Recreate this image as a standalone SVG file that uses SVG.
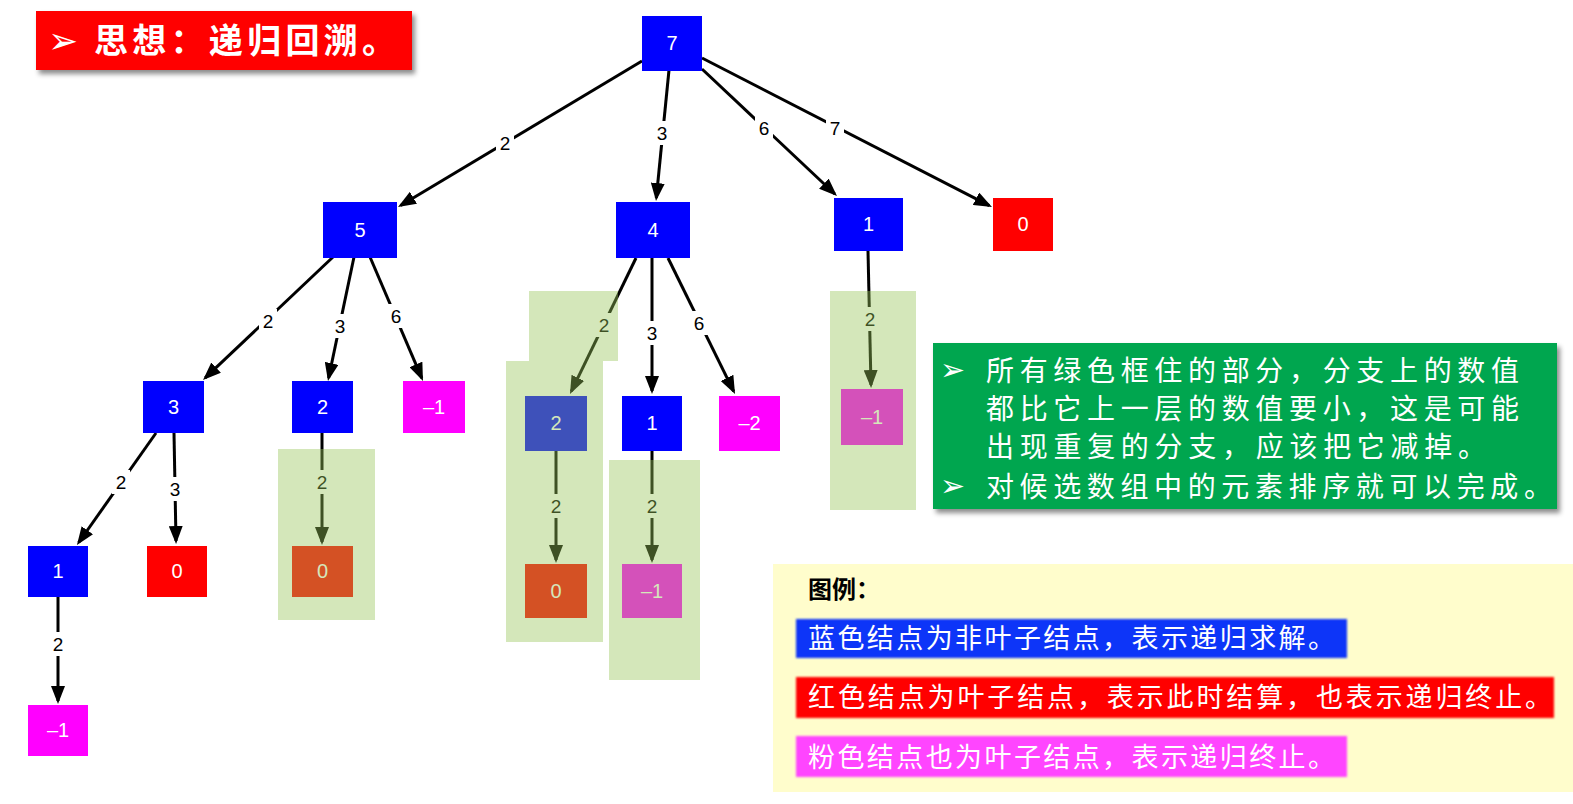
<svg xmlns="http://www.w3.org/2000/svg" width="1573" height="804" viewBox="0 0 1573 804">
<style>
.blue{fill:#0000FF}
.red{fill:#FF0000}
.pink{fill:#FF00FF}
.nt{font-family:"Liberation Sans",Arial,sans-serif;font-size:20px;fill:#FFFFFF;text-anchor:middle}
.e{stroke:#000;stroke-width:3;fill:none;marker-end:url(#arr)}
.lb{fill:#FFFFFF}
.lt{font-family:"Liberation Sans",Arial,sans-serif;font-size:19px;fill:#000;text-anchor:middle}
.hl{fill:rgb(151,197,87);fill-opacity:0.41}
.cn{font-family:"Noto Sans CJK SC",sans-serif;fill:#FFFFFF}
.bul{font-family:"DejaVu Sans",sans-serif;fill:#FFFFFF}
</style>
<defs>
<marker id="arr" markerUnits="userSpaceOnUse" markerWidth="18" markerHeight="14" refX="15" refY="7" orient="auto">
<path d="M0,0 L18,7 L0,14 Z" fill="#000"/>
</marker>
<filter id="sh" x="-5%" y="-20%" width="115%" height="150%">
<feDropShadow dx="3" dy="4" stdDeviation="2.5" flood-color="#000" flood-opacity="0.45"/>
</filter>
<filter id="soft" x="-5%" y="-20%" width="110%" height="140%">
<feGaussianBlur stdDeviation="1.2"/>
</filter>
</defs>
<rect width="1573" height="804" fill="#FFFFFF"/>

<g id="title">
<rect x="36" y="11" width="376" height="59" fill="#FF0000" filter="url(#sh)"/>
<text class="bul" x="48" y="53" font-size="36">➢</text>
<text class="cn" x="94" y="53" font-size="34" font-weight="bold" textLength="302" lengthAdjust="spacing">思想：递归回溯。</text>
</g>

<g id="connectors">
<line class="e" x1="642" y1="61" x2="400.6" y2="205.5"/>
<rect class="lb" x="496" y="131" width="18" height="24"/><text class="lt" x="505" y="150">2</text>
<line class="e" x1="669" y1="70" x2="656.3" y2="198"/>
<rect class="lb" x="653" y="121" width="18" height="24"/><text class="lt" x="662" y="140">3</text>
<line class="e" x1="702" y1="69" x2="834.8" y2="194"/>
<rect class="lb" x="755" y="116" width="18" height="24"/><text class="lt" x="764" y="135">6</text>
<line class="e" x1="702" y1="58" x2="989.3" y2="205.6"/>
<rect class="lb" x="826" y="116" width="18" height="24"/><text class="lt" x="835" y="135">7</text>

<line class="e" x1="333" y1="257" x2="205.2" y2="377.9"/>
<rect class="lb" x="259" y="309" width="18" height="24"/><text class="lt" x="268" y="328">2</text>
<line class="e" x1="354" y1="257" x2="328.6" y2="378"/>
<rect class="lb" x="331" y="314" width="18" height="24"/><text class="lt" x="340" y="333">3</text>
<line class="e" x1="370" y1="257" x2="421.8" y2="378.2"/>
<rect class="lb" x="387" y="304" width="18" height="24"/><text class="lt" x="396" y="323">6</text>

<line class="e" x1="156" y1="433" x2="78.7" y2="542.5"/>
<rect class="lb" x="112" y="470" width="18" height="24"/><text class="lt" x="121" y="489">2</text>
<line class="e" x1="174" y1="433" x2="176" y2="541"/>
<rect class="lb" x="166" y="477" width="18" height="24"/><text class="lt" x="175" y="496">3</text>
<line class="e" x1="322" y1="433" x2="322" y2="542"/>
<rect class="lb" x="313" y="470" width="18" height="24"/><text class="lt" x="322" y="489">2</text>
<line class="e" x1="58" y1="597" x2="58" y2="701"/>
<rect class="lb" x="49" y="632" width="18" height="24"/><text class="lt" x="58" y="651">2</text>

<line class="e" x1="636" y1="258" x2="571.3" y2="391.3"/>
<rect class="lb" x="595" y="313" width="18" height="24"/><text class="lt" x="604" y="332">2</text>
<line class="e" x1="652" y1="258" x2="652" y2="391"/>
<rect class="lb" x="643" y="321" width="18" height="24"/><text class="lt" x="652" y="340">3</text>
<line class="e" x1="668" y1="258" x2="733.7" y2="391.3"/>
<rect class="lb" x="690" y="311" width="18" height="24"/><text class="lt" x="699" y="330">6</text>

<line class="e" x1="556" y1="451" x2="556" y2="560"/>
<rect class="lb" x="547" y="494" width="18" height="24"/><text class="lt" x="556" y="513">2</text>
<line class="e" x1="652" y1="451" x2="652" y2="560"/>
<rect class="lb" x="643" y="494" width="18" height="24"/><text class="lt" x="652" y="513">2</text>
<line class="e" x1="868" y1="251" x2="871" y2="385"/>
<rect class="lb" x="861" y="307" width="18" height="24"/><text class="lt" x="870" y="326">2</text>
</g>

<g id="n7"><rect class="blue" x="642" y="16" width="60" height="55"/><text class="nt" x="672" y="50">7</text></g>
<g id="n5"><rect class="blue" x="323" y="202" width="74" height="56"/><text class="nt" x="360" y="237">5</text></g>
<g id="n4"><rect class="blue" x="616" y="202" width="74" height="56"/><text class="nt" x="653" y="237">4</text></g>
<g id="n1a"><rect class="blue" x="834" y="198" width="69" height="53"/><text class="nt" x="868.5" y="231">1</text></g>
<g id="n0a"><rect class="red" x="993" y="198" width="60" height="53"/><text class="nt" x="1023" y="231">0</text></g>
<g id="n3"><rect class="blue" x="143" y="381" width="61" height="52"/><text class="nt" x="173.5" y="414">3</text></g>
<g id="n2a"><rect class="blue" x="292" y="381" width="61" height="52"/><text class="nt" x="322.5" y="414">2</text></g>
<g id="nm1a"><rect class="pink" x="403" y="381" width="62" height="52"/><text class="nt" x="434" y="414">–1</text></g>
<g id="n2b"><rect class="blue" x="525" y="396" width="62" height="55"/><text class="nt" x="556" y="430">2</text></g>
<g id="n1b"><rect class="blue" x="622" y="396" width="60" height="55"/><text class="nt" x="652" y="430">1</text></g>
<g id="nm2"><rect class="pink" x="719" y="396" width="61" height="55"/><text class="nt" x="749.5" y="430">–2</text></g>
<g id="nm1b"><rect class="pink" x="841" y="389" width="62" height="56"/><text class="nt" x="872" y="424">–1</text></g>
<g id="n1c"><rect class="blue" x="28" y="546" width="60" height="51"/><text class="nt" x="58" y="578">1</text></g>
<g id="n0b"><rect class="red" x="147" y="546" width="60" height="51"/><text class="nt" x="177" y="578">0</text></g>
<g id="n0c"><rect class="red" x="292" y="546" width="61" height="51"/><text class="nt" x="322.5" y="578">0</text></g>
<g id="n0d"><rect class="red" x="525" y="564" width="62" height="54"/><text class="nt" x="556" y="598">0</text></g>
<g id="nm1c"><rect class="pink" x="622" y="564" width="60" height="54"/><text class="nt" x="652" y="598">–1</text></g>
<g id="nm1d"><rect class="pink" x="28" y="705" width="60" height="51"/><text class="nt" x="58" y="737">–1</text></g>

<g id="highlights">
<rect class="hl" x="278" y="449" width="97" height="171"/>
<path class="hl" d="M529,291 H618 V361 H603 V642 H506 V361 H529 Z"/>
<rect class="hl" x="609" y="460" width="91" height="220"/>
<rect class="hl" x="830" y="291" width="86" height="219"/>
</g>

<g id="note">
<rect x="933" y="343" width="624" height="166" fill="#00A650" filter="url(#sh)"/>
<text class="bul" x="940" y="380" font-size="30">➢</text>
<text class="cn" x="986" y="381" font-size="28" textLength="533" lengthAdjust="spacing">所有绿色框住的部分，分支上的数值</text>
<text class="cn" x="986" y="419" font-size="28" textLength="533" lengthAdjust="spacing">都比它上一层的数值要小，这是可能</text>
<text class="cn" x="986" y="457" font-size="28" textLength="500" lengthAdjust="spacing">出现重复的分支，应该把它减掉。</text>
<text class="bul" x="940" y="496" font-size="30">➢</text>
<text class="cn" x="986" y="497" font-size="28" textLength="566" lengthAdjust="spacing">对候选数组中的元素排序就可以完成。</text>
</g>

<g id="legend">
<rect x="773" y="564" width="800" height="228" fill="#FFFDCC"/>
<text x="808" y="598" font-family="'Noto Sans CJK SC',sans-serif" font-size="24" font-weight="bold" fill="#000" textLength="72" lengthAdjust="spacing">图例：</text>
<rect x="796" y="619" width="551" height="39" fill="#0A36F8" filter="url(#soft)"/>
<text class="cn" x="808" y="648" font-size="27" textLength="527" lengthAdjust="spacing">蓝色结点为非叶子结点，表示递归求解。</text>
<rect x="796" y="677" width="758" height="41" fill="#FF0000" filter="url(#soft)"/>
<text class="cn" x="808" y="707" font-size="27" textLength="744" lengthAdjust="spacing">红色结点为叶子结点，表示此时结算，也表示递归终止。</text>
<rect x="796" y="736" width="551" height="41" fill="#FF44FF" filter="url(#soft)"/>
<text class="cn" x="808" y="767" font-size="27" textLength="527" lengthAdjust="spacing">粉色结点也为叶子结点，表示递归终止。</text>
</g>
</svg>
